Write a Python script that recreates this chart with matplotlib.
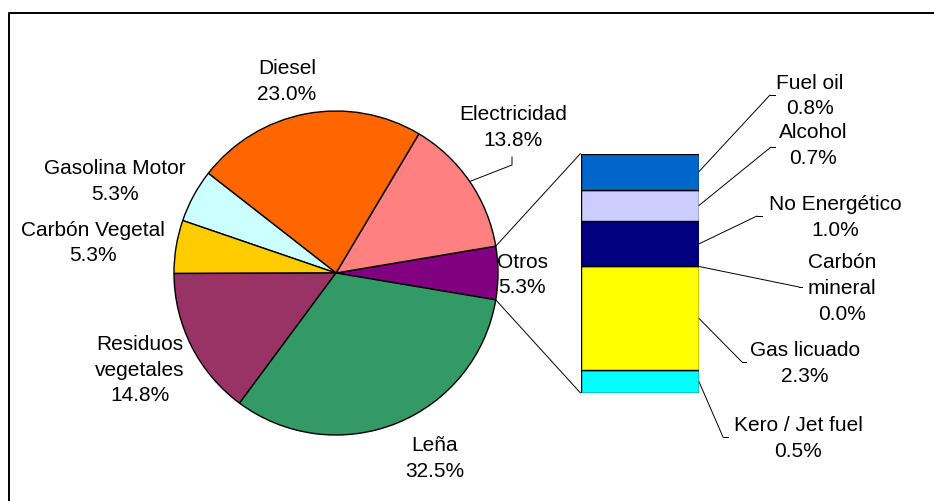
import matplotlib.pyplot as plt
from matplotlib.patches import ConnectionPatch
import numpy as np

plt.rcParams['font.family'] = ['Liberation Sans', 'DejaVu Sans']

# main pie, counter-clockwise starting from the "Otros" wedge
pie_labels = ["Otros", "Electricidad", "Diesel", "Gasolina Motor",
              "Carbón Vegetal", "Residuos\nvegetales", "Leña"]
pie_values = [5.3, 13.8, 23.0, 5.3, 5.3, 14.8, 32.5]
pie_colors = ["#800080", "#FF8080", "#FF6600", "#CCFFFF",
              "#FFCC00", "#993366", "#339966"]

# breakdown of "Otros", stacked bottom to top
bar_labels = ["Kero / Jet fuel", "Gas licuado", "Carbón\nmineral",
              "No Energético", "Alcohol", "Fuel oil"]
bar_values = [0.5, 2.3, 0.0, 1.0, 0.7, 0.8]
bar_colors = ["#00FFFF", "#FFFF00", "#808080", "#000080", "#CCCCFF", "#0066CC"]

W, H = 934, 501


def px(x, y):
    return (x, H - y)


fig = plt.figure(figsize=(W / 100, H / 100), dpi=100)
ax = fig.add_axes([0, 0, 1, 1])

center = px(336, 273)
radius = 162
start = -pie_values[0] / sum(pie_values) * 360 / 2
ax.pie(pie_values, colors=pie_colors, startangle=start, counterclock=True,
       center=center, radius=radius,
       wedgeprops=dict(edgecolor="black", linewidth=1.0))
ax.set_xlim(0, W)
ax.set_ylim(0, H)
ax.set_aspect("auto")
ax.axis("off")

# wedge mid angles
cum = np.cumsum([0] + pie_values)
ang_lo = start + cum[:-1] / sum(pie_values) * 360
ang_hi = start + cum[1:] / sum(pie_values) * 360
ang_mid = (ang_lo + ang_hi) / 2


def edge(theta):
    t = np.deg2rad(theta)
    return (center[0] + radius * np.cos(t), center[1] + radius * np.sin(t))


pie_pos = {
    "Otros": (522, 275),
    "Electricidad": (513, 127.5),
    "Diesel": (287, 81.5),
    "Gasolina Motor": (115, 181.5),
    "Carbón Vegetal": (93, 243),
    "Residuos\nvegetales": (140, 370),
    "Leña": (435, 458.5),
}
font = dict(fontsize=15, ha="center", va="center", linespacing=1.45,
            multialignment="center", color="black")
for name, val in zip(pie_labels, pie_values):
    ax.text(*px(*pie_pos[name]), f"{name}\n{val:.1f}%", **font)

# leader for Electricidad
e = edge(ang_mid[1])
ax.plot([512, 512, e[0]], [H - 157, H - 165, e[1]], color="black", lw=0.7)

# stacked bar of the "Otros" breakdown
bx0, bx1, by0, by1 = 580.5, 699, 153.5, 393
bax = fig.add_axes([bx0 / W, (H - by1) / H, (bx1 - bx0) / W, (by1 - by0) / H])
bottoms = np.concatenate([[0], np.cumsum(bar_values)[:-1]])
for val, b, c in zip(bar_values, bottoms, bar_colors):
    if val > 0:
        bax.bar(0.5, val, bottom=b, width=1, color=c, edgecolor="black",
                linewidth=1.0)
bax.set_xlim(0, 1)
bax.set_ylim(0, sum(bar_values))
bax.axis("off")

# lines joining the wedge to the bar
for theta, yb in [(ang_hi[0], sum(bar_values)), (ang_lo[0], 0)]:
    con = ConnectionPatch(xyA=edge(theta), coordsA=ax.transData,
                          xyB=(0, yb), coordsB=bax.transData,
                          color="black", lw=0.7)
    fig.add_artist(con)

bar_pos = {
    "Kero / Jet fuel": ((798, 438.5), (728, 437), (723, 437)),
    "Gas licuado": ((805, 363.5), (746, 362), (742, 362)),
    "Carbón\nmineral": ((842, 288.5), (802, 287), (799, 287)),
    "No Energético": ((835, 217.5), (762, 216), (757, 216)),
    "Alcohol": ((813, 145.5), (775, 147), (771, 147)),
    "Fuel oil": ((810, 96), (775, 95), (770, 95)),
}
for name, val, b in zip(bar_labels, bar_values, bottoms):
    tpos, stub, elbow = bar_pos[name]
    ax.text(*px(*tpos), f"{name}\n{val:.1f}%", **font)
    ax.plot([stub[0], elbow[0]], [H - stub[1], H - elbow[1]], color="black", lw=0.7)
    con = ConnectionPatch(xyA=px(*elbow), coordsA=ax.transData,
                          xyB=(1, b + val / 2), coordsB=bax.transData,
                          color="black", lw=0.7)
    fig.add_artist(con)

# chart area border
ax.plot([9, 9, W + 5], [-5, H - 13, H - 13], color="black", lw=1.4, clip_on=False)

fig.savefig("out.png", dpi=100, facecolor="white")
